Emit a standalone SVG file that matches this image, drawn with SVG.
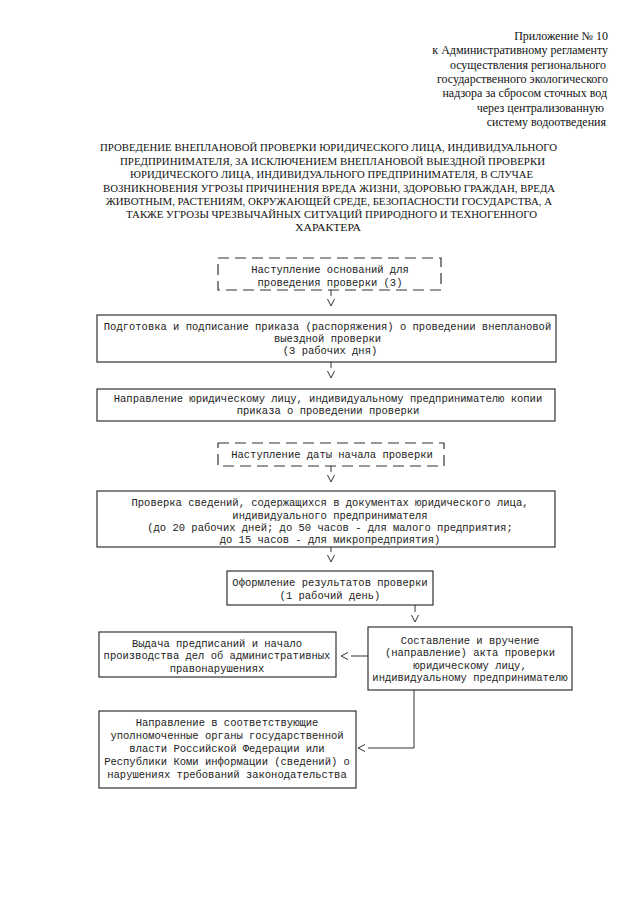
<svg xmlns="http://www.w3.org/2000/svg" width="640" height="905" viewBox="0 0 640 905">
<defs>
<style>
.hd{font-family:"Liberation Serif","Times New Roman",serif;font-size:12px;fill:#111;text-anchor:end}
.tt{font-family:"Liberation Serif","Times New Roman",serif;font-size:10.6px;fill:#111;text-anchor:middle}
.mn{font-family:"Liberation Mono","Courier New",monospace;font-size:10.5px;fill:#222;text-anchor:middle}
.bx{fill:none;stroke:#333;stroke-width:1.2}
.dx{fill:none;stroke:#333;stroke-width:1.2;stroke-dasharray:11 6}
.cn{fill:none;stroke:#333;stroke-width:1}
</style>
<marker id="chev" markerUnits="userSpaceOnUse" markerWidth="14" markerHeight="12" viewBox="0 -6 14 12" refX="0" refY="0" orient="auto">
<path d="M3,-3.5 L10,0 L3,3.5" fill="none" stroke="#333" stroke-width="1"/>
</marker>
</defs>
<rect width="640" height="905" fill="#fff"/>
<g id="header">
<text class="hd" x="608" y="40">Приложение № 10</text>
<text class="hd" x="608" y="54.3">к Административному регламенту</text>
<text class="hd" x="606" y="68.7">осуществления регионального</text>
<text class="hd" x="608" y="83">государственного экологического</text>
<text class="hd" x="607" y="97.3">надзора за сбросом сточных вод</text>
<text class="hd" x="604" y="111.7">через централизованную</text>
<text class="hd" x="606" y="126">систему водоотведения</text>
</g>
<g id="title">
<text class="tt" x="328.5" y="151" textLength="457" lengthAdjust="spacingAndGlyphs">ПРОВЕДЕНИЕ ВНЕПЛАНОВОЙ ПРОВЕРКИ ЮРИДИЧЕСКОГО ЛИЦА, ИНДИВИДУАЛЬНОГО</text>
<text class="tt" x="332.5" y="164.5" textLength="425" lengthAdjust="spacingAndGlyphs">ПРЕДПРИНИМАТЕЛЯ, ЗА ИСКЛЮЧЕНИЕМ ВНЕПЛАНОВОЙ ВЫЕЗДНОЙ ПРОВЕРКИ</text>
<text class="tt" x="331.5" y="178" textLength="403" lengthAdjust="spacingAndGlyphs">ЮРИДИЧЕСКОГО ЛИЦА, ИНДИВИДУАЛЬНОГО ПРЕДПРИНИМАТЕЛЯ, В СЛУЧАЕ</text>
<text class="tt" x="329" y="191.5" textLength="452" lengthAdjust="spacingAndGlyphs">ВОЗНИКНОВЕНИЯ УГРОЗЫ ПРИЧИНЕНИЯ ВРЕДА ЖИЗНИ, ЗДОРОВЬЮ ГРАЖДАН, ВРЕДА</text>
<text class="tt" x="329" y="205" textLength="446" lengthAdjust="spacingAndGlyphs">ЖИВОТНЫМ, РАСТЕНИЯМ, ОКРУЖАЮЩЕЙ СРЕДЕ, БЕЗОПАСНОСТИ ГОСУДАРСТВА, А</text>
<text class="tt" x="331.5" y="218" textLength="411" lengthAdjust="spacingAndGlyphs">ТАКЖЕ УГРОЗЫ ЧРЕЗВЫЧАЙНЫХ СИТУАЦИЙ ПРИРОДНОГО И ТЕХНОГЕННОГО</text>
<text class="tt" x="328" y="231" textLength="66" lengthAdjust="spacingAndGlyphs">ХАРАКТЕРА</text>
</g>
<g id="node1">
<rect class="dx" x="218" y="258" width="223" height="32"/>
<text class="mn" x="330" y="272.5">Наступление оснований для</text>
<text class="mn" x="330" y="285.5">проведения проверки (3)</text>
</g>
<g id="node2">
<rect class="bx" x="97" y="315" width="459" height="47"/>
<text class="mn" x="327.5" y="329.5">Подготовка и подписание приказа (распоряжения) о проведении внеплановой</text>
<text class="mn" x="327.5" y="341.5">выездной проверки</text>
<text class="mn" x="330" y="353.5">(3 рабочих дня)</text>
</g>
<g id="node3">
<rect class="bx" x="97" y="389" width="458" height="32"/>
<text class="mn" x="328" y="401.5">Направление юридическому лицу, индивидуальному предпринимателю копии</text>
<text class="mn" x="328" y="413.5">приказа о проведении проверки</text>
</g>
<g id="node4">
<rect class="dx" x="218" y="443" width="226" height="23"/>
<text class="mn" x="332" y="458">Наступление даты начала проверки</text>
</g>
<g id="node5">
<rect class="bx" x="97" y="491" width="458" height="56"/>
<text class="mn" x="330" y="506">Проверка сведений, содержащихся в документах юридического лица,</text>
<text class="mn" x="330" y="518.5">индивидуального предпринимателя</text>
<text class="mn" x="330" y="531">(до 20 рабочих дней; до 50 часов - для малого предприятия;</text>
<text class="mn" x="330" y="543">до 15 часов - для микропредприятия)</text>
</g>
<g id="node6">
<rect class="bx" x="227" y="571" width="206" height="34"/>
<text class="mn" x="330" y="586">Оформление результатов проверки</text>
<text class="mn" x="330" y="599">(1 рабочий день)</text>
</g>
<g id="node7">
<rect class="bx" x="368" y="627" width="204" height="63"/>
<text class="mn" x="470" y="643.5">Составление и вручение</text>
<text class="mn" x="470" y="656">(направление) акта проверки</text>
<text class="mn" x="470" y="668.5">юридическому лицу,</text>
<text class="mn" x="470" y="681">индивидуальному предпринимателю</text>
</g>
<g id="node8">
<rect class="bx" x="99" y="632" width="237" height="45"/>
<text class="mn" x="217" y="646.5">Выдача предписаний и начало</text>
<text class="mn" x="217" y="659">производства дел об административных</text>
<text class="mn" x="217" y="671.5">правонарушениях</text>
</g>
<g id="node9">
<rect class="bx" x="99" y="711" width="257" height="77"/>
<text class="mn" x="227" y="725.5">Направление в соответствующие</text>
<text class="mn" x="227" y="738.5">уполномоченные органы государственной</text>
<text class="mn" x="227" y="751.5">власти Российской Федерации или</text>
<text class="mn" x="227" y="764.5">Республики Коми информации (сведений) о</text>
<text class="mn" x="227" y="777.5">нарушениях требований законодательства</text>
</g>
<g id="connectors">
<path class="cn" d="M331,290 V296" marker-end="url(#chev)"/>
<path class="cn" d="M331,362 V368" marker-end="url(#chev)"/>
<path class="cn" d="M331,466 V472" marker-end="url(#chev)"/>
<path class="cn" d="M331,547 V552" marker-end="url(#chev)"/>
<path class="cn" d="M415,605 V612" marker-end="url(#chev)"/>
<path class="cn" d="M368,656 H351" marker-end="url(#chev)"/>
<path class="cn" d="M414,690 V748 H368" marker-end="url(#chev)"/>
</g>
</svg>
